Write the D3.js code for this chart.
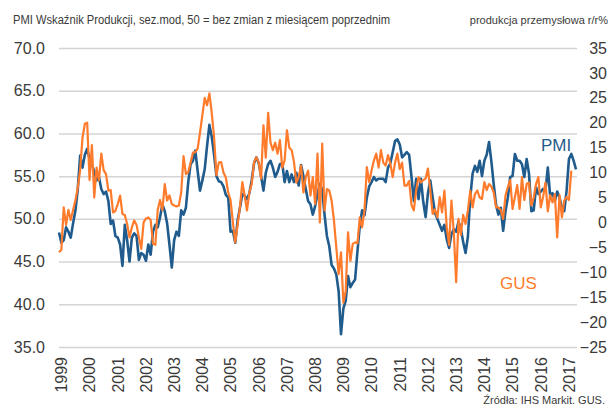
<!DOCTYPE html>
<html>
<head>
<meta charset="utf-8">
<script src="https://cdn.jsdelivr.net/npm/d3@7"></script>
<style>
  body { margin: 0; background: #fff; }
  svg { display: block; font-family: "Liberation Sans", Arial, sans-serif; }
</style>
</head>
<body>
<div id="chart"></div>
<script>
// PMI output index, monthly from Jan 1999 (left axis)
var pmi = [
  48.4, 47.2, 47.5, 49.0, 48.5, 47.8, 49.5, 51.0, 53.5, 57.4, 56.0, 57.5,
  58.2, 57.0, 56.4, 55.5, 54.5, 54.9, 53.5, 52.9, 53.2, 52.1, 49.4, 49.8,
  48.0, 47.8, 47.0, 44.5, 49.3, 47.5, 45.0, 47.8, 48.3, 48.0, 45.2, 46.0,
  45.8, 45.1, 47.0, 45.8, 48.5, 49.3, 49.0, 50.2, 51.7, 50.9, 49.5, 47.0,
  44.3, 47.5, 48.5, 48.0, 51.0, 50.5, 51.3, 54.3, 56.4, 56.8, 58.0, 55.6,
  53.3, 54.5, 55.8, 58.5, 61.0, 59.6, 57.5, 55.0, 54.4, 54.3, 53.8, 52.8,
  52.5, 48.5, 48.6, 47.2, 49.8, 51.3, 52.9, 52.7, 52.3, 53.0, 54.5, 56.5,
  57.2, 56.5, 55.0, 53.3, 55.4, 56.4, 56.8, 56.0, 54.9, 55.5, 56.4, 56.5,
  54.3, 55.6, 54.3, 55.2, 54.3, 55.4, 53.9, 56.3, 55.0, 53.5, 52.1, 51.7,
  50.5, 51.5, 52.9, 54.1, 53.4, 50.5, 48.0, 46.8, 44.6, 44.2, 43.5, 41.5,
  36.5, 39.5, 40.4, 43.3, 42.0, 42.5, 42.9, 46.2, 49.2, 51.0, 50.4, 52.5,
  53.8, 54.3, 54.9, 54.5, 54.7, 54.7, 54.7, 54.3, 56.0, 56.5, 57.8, 59.1,
  59.3, 58.7, 57.2, 57.5, 57.8, 57.5, 54.9, 52.1, 54.7, 52.3, 54.7, 52.0,
  50.2, 53.0, 54.5, 52.5, 50.7, 50.0, 49.3, 48.6, 49.3, 47.6, 46.6, 48.2,
  48.8, 48.5, 49.7, 48.8, 47.3, 46.0, 47.9, 52.5, 55.3, 56.2, 55.5, 56.8,
  55.0, 56.8, 57.5, 59.0, 56.7, 54.0, 51.6, 50.5, 51.3, 48.6, 50.9, 52.5,
  54.9, 55.0, 57.6, 56.8, 56.8, 56.4, 54.9, 57.0, 55.3, 50.9, 51.0, 53.7,
  52.9, 53.2, 53.5, 53.3, 56.0, 52.7, 53.0, 52.1, 53.2, 52.5, 51.3, 50.9,
  53.3, 57.0, 57.6, 56.8, 55.8
];

// GUS industrial production y/y %, monthly from Jan 1999 (right axis)
var gus = [
  -6.0, -5.5, 3.0, -0.5, 2.5, 0.5, 2.5, 4.5, 7.0, 10.5, 17.0, 19.8,
  20.0, 8.5, 15.5, 5.0, 11.0, 8.5, 13.8, 10.5, 9.7, 6.4, 6.5, 2.0,
  2.3, 3.7, 5.4, 1.7, 1.5, -0.3, -3.0, -1.0, 0.4, -0.5, -3.0, -5.3,
  0.0, 0.8, 1.0, 0.5, -4.3, -4.5, 2.5, 4.5, 2.5, 7.7, 4.4, 5.4,
  3.7, 3.4, 3.2, 3.4, 6.0, 13.3, 9.7, 10.1, 12.0, 14.0, 14.1, 14.8,
  18.0, 21.5, 25.0, 23.5, 25.9, 22.0, 17.0, 9.5, 12.0, 12.1, 10.0, 9.0,
  6.0, 4.5, 0.0, -4.0, -0.5, 3.0, 8.1, 5.4, 2.4, 6.0, 7.7, 12.1,
  13.1, 12.0, 8.8, 19.5, 13.0, 22.0, 16.0, 14.5, 16.0, 13.8, 16.5, 11.0,
  12.4, 18.5, 15.0, 14.5, 12.1, 8.0, 9.1, 11.4, 6.0, 9.1, 10.4, 5.4,
  9.1, 3.7, 13.8, 0.0, 15.8, 2.4, 6.7, 6.4, 4.4, 0.4, -5.0, -10.4,
  -6.0, -16.1, -13.8, -2.0, -7.7, -4.3, -4.0, -4.2, 1.0, -1.0, 2.4, 11.1,
  8.1, 10.4, 12.4, 13.8, 11.0, 14.5, 12.0, 11.4, 13.5, 11.8, 9.1, 12.0,
  13.8, 10.7, 12.0, 7.4, 7.4, 8.3, 3.5, 2.4, 6.5, 9.1, 8.0, 8.5,
  8.8, 10.8, 6.4, 1.7, 2.6, 1.0, 5.1, 2.0, 6.4, -1.0, -4.5, 4.4,
  -2.0, -12.0, 0.7, -2.5, 1.5, -0.3, 2.4, 6.4, 3.0, 5.7, 6.4, 5.0,
  4.7, 8.1, 6.5, 7.7, 7.2, 6.0, 3.0, 3.0, 2.5, 0.7, 5.4, 7.1,
  8.5, 2.7, 5.1, 7.5, 2.7, 9.1, 4.5, 7.7, 8.0, 3.4, 5.0, 7.7,
  9.1, 3.0, 5.1, 8.0, 2.2, 5.5, 4.0, 5.7, -3.0, 5.5, 1.0, 4.4,
  5.1, 4.5, 10.4
];

var years = d3.range(1999, 2018);
var pmiTicks = [35, 40, 45, 50, 55, 60, 65, 70];
var gusTicks = d3.range(-25, 36, 5);

var width = 614;
var height = 408;
var blue = '#1f5b8c';
var orange = '#ff7b2c';
var textColor = '#3a3a3a';

var svg = d3.select('#chart').append('svg')
  .attr('width', width)
  .attr('height', height);

var x = d3.scaleLinear().domain([0, 220]).range([59, 576]);
var yLeft = d3.scaleLinear().domain([35, 70]).range([347, 48]);
var yRight = d3.scaleLinear().domain([-25, 35]).range([347, 48]);

// left axis doubles as the gridlines
var leftAxis = svg.append('g')
  .attr('transform', 'translate(59,0)')
  .call(d3.axisLeft(yLeft)
    .tickValues(pmiTicks)
    .tickSize(-518)
    .tickPadding(14)
    .tickFormat(d3.format('.1f')));
leftAxis.select('.domain').remove();
leftAxis.selectAll('line').attr('stroke', '#d4d4d4').attr('stroke-width', 1.5);
leftAxis.selectAll('text')
  .attr('fill', textColor)
  .style('font-size', '16px');

// right axis labels are right aligned near the edge
var rightAxis = svg.append('g')
  .attr('transform', 'translate(577,0)')
  .call(d3.axisRight(yRight)
    .tickValues(gusTicks)
    .tickSize(0)
    .tickFormat(d3.format('d')));
rightAxis.select('.domain').remove();
rightAxis.selectAll('text')
  .attr('fill', textColor)
  .attr('text-anchor', 'end')
  .attr('x', 30)
  .style('font-size', '16px');

var bottomAxis = svg.append('g')
  .attr('transform', 'translate(2,350)')
  .call(d3.axisBottom(x)
    .tickValues(years.map(function (yr) { return (yr - 1999) * 12; }))
    .tickSize(0)
    .tickFormat(function (d) { return 1999 + d / 12; }));
bottomAxis.select('.domain').remove();
bottomAxis.selectAll('text')
  .attr('fill', textColor)
  .style('font-size', '16px')
  .attr('transform', 'rotate(-90)')
  .attr('text-anchor', 'end')
  .attr('x', -7)
  .attr('y', 0)
  .attr('dy', '0.35em');

var pmiLine = d3.line()
  .x(function (d, i) { return x(i); })
  .y(function (d) { return yLeft(d); });

var gusLine = d3.line()
  .x(function (d, i) { return x(i); })
  .y(function (d) { return yRight(d); });

svg.append('path')
  .datum(pmi)
  .attr('d', pmiLine)
  .attr('fill', 'none')
  .attr('stroke', blue)
  .attr('stroke-width', 2.6)
  .attr('stroke-linejoin', 'round');

svg.append('path')
  .datum(gus)
  .attr('d', gusLine)
  .attr('fill', 'none')
  .attr('stroke', orange)
  .attr('stroke-width', 2.2)
  .attr('stroke-linejoin', 'round');

// titles
svg.append('text')
  .attr('x', 13)
  .attr('y', 24)
  .attr('fill', textColor)
  .attr('textLength', 377)
  .attr('lengthAdjust', 'spacingAndGlyphs')
  .style('font-size', '12px')
  .text('PMI Wskaźnik Produkcji, sez.mod, 50 = bez zmian z miesiącem poprzednim');

svg.append('text')
  .attr('x', 608)
  .attr('y', 24)
  .attr('text-anchor', 'end')
  .attr('fill', textColor)
  .style('font-size', '11px')
  .text('produkcja przemysłowa r/r%');

// series labels
svg.append('text')
  .attr('x', 541)
  .attr('y', 151)
  .attr('fill', blue)
  .style('font-size', '17px')
  .text('PMI');

svg.append('text')
  .attr('x', 500)
  .attr('y', 289)
  .attr('fill', orange)
  .style('font-size', '17px')
  .text('GUS');

svg.append('text')
  .attr('x', 605)
  .attr('y', 404)
  .attr('text-anchor', 'end')
  .attr('fill', textColor)
  .style('font-size', '11px')
  .text('Źródła: IHS Markit. GUS.');
</script>
</body>
</html>
